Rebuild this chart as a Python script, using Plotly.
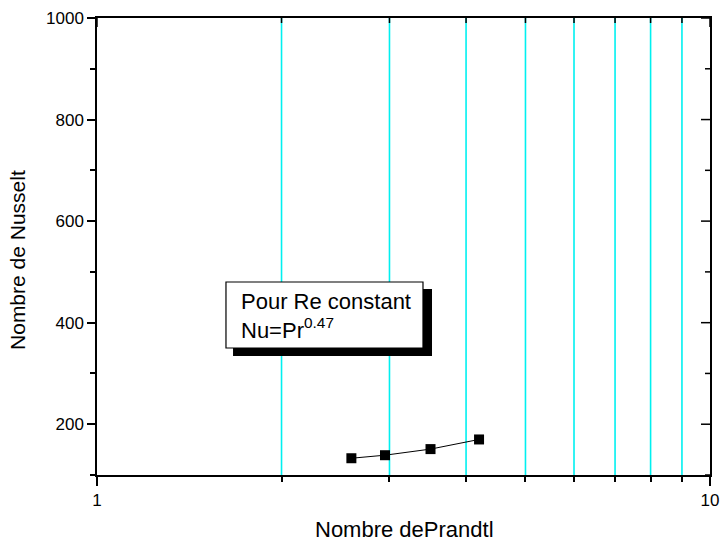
import plotly.graph_objects as go

# Nusselt number vs Prandtl number at constant Reynolds
prandtl = [2.6, 2.95, 3.5, 4.2]
nusselt = [133, 139, 151, 170]

x_ticks = [1, 10]
x_minor = [2, 3, 4, 5, 6, 7, 8, 9]
y_ticks = [200, 400, 600, 800, 1000]
y_minor = [100, 300, 500, 700, 900]

FONT = "Liberation Sans, Arial, sans-serif"
CYAN = "#00F0F0"

fig = go.Figure()

# vertical cyan guide lines at the minor decades
for v in x_minor:
    fig.add_shape(type="line", xref="x", yref="paper", x0=v, x1=v, y0=0, y1=1,
                  line=dict(color=CYAN, width=1.6), layer="below")

fig.add_trace(go.Scatter(
    x=prandtl, y=nusselt, mode="lines+markers",
    line=dict(color="black", width=1),
    marker=dict(symbol="square", size=10, color="black"),
    showlegend=False, hoverinfo="x+y",
))

fig.update_layout(
    width=720, height=542,
    margin=dict(l=97, r=10, t=18, b=67, autoexpand=False),
    paper_bgcolor="white", plot_bgcolor="white",
    font=dict(family=FONT, size=17, color="black"),
    xaxis=dict(
        type="log", range=[0, 1], automargin=False,
        tickmode="array", tickvals=x_ticks, ticktext=[str(v) for v in x_ticks],
        ticks="outside", ticklen=9, tickwidth=1.5, tickcolor="black",
        showline=True, linecolor="black", linewidth=1.5, mirror=True,
        showgrid=False, zeroline=False,
        tickfont=dict(size=17),
        minor=dict(tickmode="array", tickvals=x_minor, ticks="outside",
                   ticklen=5, tickwidth=1.5, tickcolor="black", showgrid=False),
    ),
    yaxis=dict(
        range=[100, 1000], automargin=False,
        tickmode="array", tickvals=y_ticks,
        ticks="outside", ticklen=8, tickwidth=1.5, tickcolor="black",
        showline=True, linecolor="black", linewidth=1.5, mirror=True,
        showgrid=False, zeroline=False,
        tickfont=dict(size=17),
        minor=dict(tickmode="array", tickvals=y_minor, ticks="outside",
                   ticklen=5, tickwidth=1.5, tickcolor="black", showgrid=False),
    ),
)

# inward ticks on the top and right frame edges
tick_line = dict(color="black", width=1.5)
for v in x_ticks + x_minor:
    length = 9 if v in x_ticks else 5
    fig.add_shape(type="line", xref="x", yref="paper", ysizemode="pixel",
                  yanchor=1, x0=v, x1=v, y0=0, y1=-length, line=tick_line)
for v in y_ticks + y_minor:
    length = 9 if v in y_ticks else 5
    fig.add_shape(type="line", xref="paper", yref="y", xsizemode="pixel",
                  xanchor=1, x0=0, x1=-length, y0=v, y1=v, line=tick_line)

# text box with drop shadow
fig.add_shape(type="rect", xref="paper", yref="paper",
              x0=0.2219, x1=0.5465, y0=0.2604, y1=0.407,
              fillcolor="black", line=dict(width=0), layer="above")
fig.add_shape(type="rect", xref="paper", yref="paper",
              x0=0.2104, x1=0.5318, y0=0.2779, y1=0.4223,
              fillcolor="white", line=dict(color="black", width=1.2), layer="above")

fig.add_annotation(
    xref="paper", yref="paper", x=0.2322, y=0.349,
    xanchor="left", yanchor="middle", align="left", showarrow=False,
    text="Pour Re constant<br>Nu=Pr<sup>0.47</sup>",
    font=dict(family=FONT, size=22, color="black"),
)

# axis titles
fig.add_annotation(
    xref="paper", yref="paper", x=0.5015, y=-0.1203,
    xanchor="center", yanchor="middle", showarrow=False,
    text="Nombre dePrandtl", font=dict(family=FONT, size=22, color="black"),
)
fig.add_annotation(
    xref="paper", yref="paper", x=-0.1289, y=0.4705,
    xanchor="center", yanchor="middle", showarrow=False, textangle=-90,
    text="Nombre de Nusselt", font=dict(family=FONT, size=21, color="black"),
)

fig.write_html("out.html")
